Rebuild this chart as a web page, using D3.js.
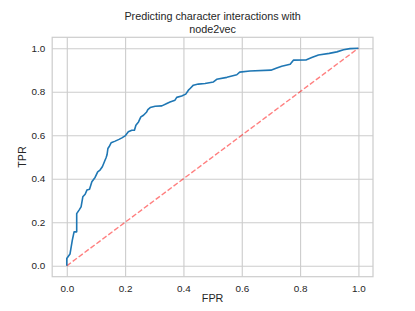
<!DOCTYPE html>
<html>
<head>
<meta charset="utf-8">
<script src="https://cdn.jsdelivr.net/npm/d3@7"></script>
<style>
  html, body { margin: 0; padding: 0; background: #fff; }
  svg { display: block; }
  text { font-family: "Liberation Sans", Arial, sans-serif; fill: #262626; }
</style>
</head>
<body>
<div id="chart"></div>
<script>
const titleLines = ["Predicting character interactions with", "node2vec"];
const xLabel = "FPR";
const yLabel = "TPR";
const xTicks = [0.0, 0.2, 0.4, 0.6, 0.8, 1.0];
const yTicks = [0.0, 0.2, 0.4, 0.6, 0.8, 1.0];
const fpr = [0, 0, 0.011, 0.019, 0.025, 0.034, 0.034, 0.042, 0.049, 0.055, 0.063, 0.069, 0.078, 0.086, 0.097, 0.106, 0.114, 0.122, 0.129, 0.135, 0.138, 0.141, 0.145, 0.152, 0.166, 0.179, 0.189, 0.2, 0.211, 0.223, 0.232, 0.237, 0.246, 0.254, 0.263, 0.274, 0.278, 0.286, 0.303, 0.326, 0.343, 0.354, 0.371, 0.377, 0.394, 0.408, 0.417, 0.423, 0.434, 0.451, 0.474, 0.503, 0.514, 0.549, 0.583, 0.593, 0.628, 0.70, 0.72, 0.737, 0.766, 0.777, 0.82, 0.84, 0.863, 0.9, 0.926, 0.949, 0.971, 1];
const tpr = [0, 0.034, 0.054, 0.118, 0.156, 0.156, 0.24, 0.256, 0.271, 0.317, 0.329, 0.348, 0.352, 0.386, 0.406, 0.432, 0.44, 0.455, 0.478, 0.498, 0.51, 0.539, 0.547, 0.565, 0.573, 0.581, 0.588, 0.597, 0.616, 0.623, 0.623, 0.646, 0.661, 0.684, 0.692, 0.707, 0.718, 0.727, 0.733, 0.735, 0.746, 0.753, 0.761, 0.774, 0.78, 0.789, 0.807, 0.815, 0.83, 0.835, 0.838, 0.845, 0.857, 0.866, 0.878, 0.89, 0.895, 0.899, 0.909, 0.917, 0.926, 0.945, 0.946, 0.957, 0.969, 0.976, 0.983, 0.993, 0.998, 1];
const chanceX = [0, 1];
const chanceY = [0, 1];

const W = 415, H = 311;
const svg = d3.select("#chart").append("svg").attr("width", W).attr("height", H);

const x = d3.scaleLinear().domain([-0.05, 1.05]).range([52.2, 373]);
const y = d3.scaleLinear().domain([-0.05, 1.05]).range([276.7, 37.3]);

const gridColor = "#cccccc";

// grid
const xAxis = d3.axisBottom(x).tickValues(xTicks).tickFormat(d3.format(".1f"))
  .tickSize(-(y.range()[0] - y.range()[1])).tickPadding(8);
const yAxis = d3.axisLeft(y).tickValues(yTicks).tickFormat(d3.format(".1f"))
  .tickSize(-(x.range()[1] - x.range()[0])).tickPadding(7);

const gx = svg.append("g").attr("transform", `translate(0,${y.range()[0]})`).call(xAxis);
const gy = svg.append("g").attr("transform", `translate(${x.range()[0]},0)`).call(yAxis);
[gx, gy].forEach(g => {
  g.select(".domain").remove();
  g.selectAll(".tick line").attr("stroke", gridColor).attr("stroke-width", 1.1);
  g.selectAll(".tick text").attr("font-size", "9.9px").attr("fill", "#262626")
    .attr("font-family", "'Liberation Sans', Arial, sans-serif");
});

// spines
svg.append("rect")
  .attr("x", x.range()[0]).attr("y", y.range()[1])
  .attr("width", x.range()[1] - x.range()[0]).attr("height", y.range()[0] - y.range()[1])
  .attr("fill", "none").attr("stroke", gridColor).attr("stroke-width", 1.2);

// chance line
const chance = chanceX.map((d, i) => [d, chanceY[i]]);
svg.append("path")
  .attr("d", d3.line().x(d => x(d[0])).y(d => y(d[1]))(chance))
  .attr("fill", "none").attr("stroke", "red").attr("stroke-opacity", 0.5)
  .attr("stroke-width", 1.4).attr("stroke-dasharray", "5.2,2.2");

// ROC curve
const roc = fpr.map((d, i) => [d, tpr[i]]);
svg.append("path")
  .attr("d", d3.line().x(d => x(d[0])).y(d => y(d[1]))(roc))
  .attr("fill", "none").attr("stroke", "#1f77b4").attr("stroke-width", 1.6)
  .attr("stroke-linejoin", "round");

// title
const cx = (x.range()[0] + x.range()[1]) / 2;
svg.append("text").attr("x", cx).attr("y", 20).attr("text-anchor", "middle")
  .attr("font-size", "10.8px").text(titleLines[0]);
svg.append("text").attr("x", cx).attr("y", 32.5).attr("text-anchor", "middle")
  .attr("font-size", "10.8px").text(titleLines[1]);

// axis labels
svg.append("text").attr("x", cx).attr("y", 301.5).attr("text-anchor", "middle")
  .attr("font-size", "10.8px").text(xLabel);
svg.append("text").attr("transform", `translate(25.5,${(y.range()[0] + y.range()[1]) / 2}) rotate(-90)`)
  .attr("text-anchor", "middle").attr("font-size", "10.8px").text(yLabel);
</script>
</body>
</html>
